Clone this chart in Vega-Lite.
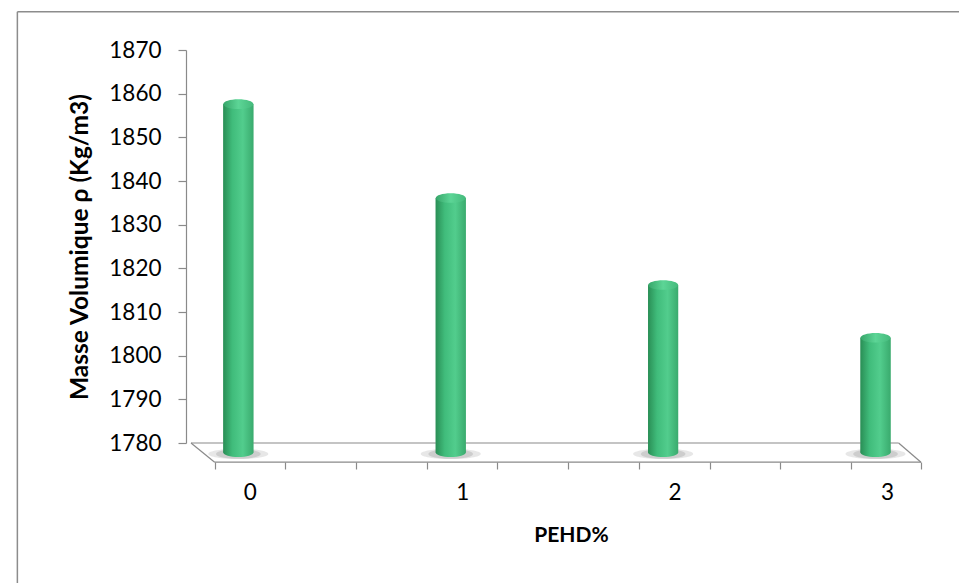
{
  "$schema": "https://vega.github.io/schema/vega-lite/v6.json",
  "autosize": {"type": "none"},
  "width": 740,
  "height": 393,
  "padding": {"left": 186, "top": 50, "right": 33, "bottom": 140},
  "background": "white",
  "config": {
    "view": {"stroke": null},
    "font": "Lato",
    "axis": {
      "grid": false,
      "domainColor": "#8a8a8a",
      "tickColor": "#8a8a8a",
      "labelFont": "Lato",
      "labelColor": "#000000",
      "titleFont": "Lato",
      "titleColor": "#000000"
    }
  },
  "data": {
    "values": [
      {"pehd": 0, "masse": 1857.6},
      {"pehd": 1, "masse": 1836.1},
      {"pehd": 2, "masse": 1816.2},
      {"pehd": 3, "masse": 1804.1}
    ]
  },
  "resolve": {"axis": {"x": "independent", "y": "independent"}},
  "layer": [
    {
      "description": "column bodies, with both axes",
      "mark": {
        "type": "bar",
        "width": 30,
        "color": {
          "gradient": "linear",
          "x1": 0, "x2": 1, "y1": 0, "y2": 0,
          "stops": [
            {"offset": 0, "color": "#2a8f56"},
            {"offset": 0.3, "color": "#40bc7b"},
            {"offset": 0.65, "color": "#52cd8d"},
            {"offset": 1, "color": "#3aab6e"}
          ]
        }
      },
      "encoding": {
        "x": {
          "field": "pehd",
          "type": "quantitative",
          "scale": {"domain": [-0.2229, 3.2141], "nice": false, "zero": false},
          "axis": {
            "orient": "bottom",
            "values": [-0.1115, 0.2214, 0.5543, 0.8872, 1.2201, 1.553, 1.886, 2.219, 2.552, 2.885, 3.2141],
            "labels": false,
            "domain": false,
            "tickSize": 7,
            "tickWidth": 1.2,
            "offset": 19,
            "title": "PEHD%",
            "titleFontSize": 21,
            "titleFontWeight": "bold",
            "titlePadding": 55,
            "titleX": 385
          }
        },
        "y": {
          "field": "masse",
          "type": "quantitative",
          "scale": {"domain": [1780, 1870], "nice": false, "zero": false},
          "axis": {
            "orient": "left",
            "values": [1780, 1790, 1800, 1810, 1820, 1830, 1840, 1850, 1860, 1870],
            "format": "d",
            "tickSize": 8,
            "tickWidth": 1.2,
            "domainWidth": 1.2,
            "labelFontSize": 22.5,
            "labelPadding": 17,
            "title": "Masse Volumique ρ (Kg/m3)",
            "titleFontSize": 24.5,
            "titleFontWeight": "bold",
            "titlePadding": 16
          }
        },
        "y2": {"datum": 1777.8}
      }
    },
    {
      "description": "chart frame (top and left edges)",
      "data": {"values": [{}]},
      "mark": {"type": "rule", "color": "#8c8c8c", "strokeWidth": 1.5},
      "encoding": {
        "x": {"datum": -1.0404, "type": "quantitative", "axis": null},
        "x2": {"datum": 6},
        "y": {"datum": 1878.77, "type": "quantitative", "axis": null}
      }
    },
    {
      "data": {"values": [{}]},
      "mark": {"type": "rule", "color": "#8c8c8c", "strokeWidth": 1.5},
      "encoding": {
        "x": {"datum": -1.0404, "type": "quantitative", "axis": null},
        "y": {"datum": 1878.77, "type": "quantitative", "axis": null},
        "y2": {"datum": 1700}
      }
    },
    {
      "description": "floor: back edge",
      "data": {"values": [{}]},
      "mark": {"type": "rule", "color": "#8a8a8a", "strokeWidth": 1.2},
      "encoding": {
        "x": {"datum": -0.2229, "type": "quantitative", "axis": null},
        "x2": {"datum": 3.1087},
        "y": {"datum": 1780, "type": "quantitative", "axis": null}
      }
    },
    {
      "description": "floor: left side",
      "data": {"values": [{}]},
      "mark": {"type": "rule", "color": "#8a8a8a", "strokeWidth": 1.2},
      "encoding": {
        "x": {"datum": -0.2229, "type": "quantitative", "axis": null},
        "x2": {"datum": -0.1115},
        "y": {"datum": 1780, "type": "quantitative", "axis": null},
        "y2": {"datum": 1775.6}
      }
    },
    {
      "description": "floor: front edge",
      "data": {"values": [{}]},
      "mark": {"type": "rule", "color": "#8a8a8a", "strokeWidth": 1.2},
      "encoding": {
        "x": {"datum": -0.1115, "type": "quantitative", "axis": null},
        "x2": {"datum": 3.2141},
        "y": {"datum": 1775.6, "type": "quantitative", "axis": null}
      }
    },
    {
      "description": "floor: right side",
      "data": {"values": [{}]},
      "mark": {"type": "rule", "color": "#8a8a8a", "strokeWidth": 1.2},
      "encoding": {
        "x": {"datum": 3.1087, "type": "quantitative", "axis": null},
        "x2": {"datum": 3.2141},
        "y": {"datum": 1780, "type": "quantitative", "axis": null},
        "y2": {"datum": 1775.6}
      }
    },
    {
      "description": "soft shadows under the columns",
      "mark": {
        "type": "point",
        "filled": true,
        "shape": "M-1,0 A1,0.17 0 1,0 1,0 A1,0.17 0 1,0 -1,0 Z",
        "size": 3600,
        "color": "#7a7a7a",
        "opacity": 0.18,
        "dx": 4
      },
      "encoding": {
        "x": {"field": "pehd", "type": "quantitative", "axis": null},
        "y": {"datum": 1777.5, "type": "quantitative", "axis": null}
      }
    },
    {
      "mark": {
        "type": "point",
        "filled": true,
        "shape": "M-1,0 A1,0.22 0 1,0 1,0 A1,0.22 0 1,0 -1,0 Z",
        "size": 2000,
        "color": "#6a6a6a",
        "opacity": 0.2,
        "dx": 4
      },
      "encoding": {
        "x": {"field": "pehd", "type": "quantitative", "axis": null},
        "y": {"datum": 1777.5, "type": "quantitative", "axis": null}
      }
    },
    {
      "description": "column bodies drawn again above the shadows",
      "mark": {
        "type": "bar",
        "width": 30,
        "color": {
          "gradient": "linear",
          "x1": 0, "x2": 1, "y1": 0, "y2": 0,
          "stops": [
            {"offset": 0, "color": "#2a8f56"},
            {"offset": 0.3, "color": "#40bc7b"},
            {"offset": 0.65, "color": "#52cd8d"},
            {"offset": 1, "color": "#3aab6e"}
          ]
        }
      },
      "encoding": {
        "x": {"field": "pehd", "type": "quantitative", "axis": null},
        "y": {"field": "masse", "type": "quantitative", "axis": null},
        "y2": {"datum": 1777.8}
      }
    },
    {
      "description": "rounded base of each column",
      "mark": {
        "type": "point",
        "filled": true,
        "opacity": 1,
        "shape": "M-1,0 A1,0.3 0 1,0 1,0 A1,0.3 0 1,0 -1,0 Z",
        "size": 900,
        "color": {
          "gradient": "linear",
          "x1": 0, "x2": 1, "y1": 0, "y2": 0,
          "stops": [
            {"offset": 0, "color": "#2a8f56"},
            {"offset": 0.3, "color": "#40bc7b"},
            {"offset": 0.65, "color": "#52cd8d"},
            {"offset": 1, "color": "#3aab6e"}
          ]
        }
      },
      "encoding": {
        "x": {"field": "pehd", "type": "quantitative", "axis": null},
        "y": {"datum": 1777.8, "type": "quantitative", "axis": null}
      }
    },
    {
      "description": "top cap of each column",
      "mark": {
        "type": "point",
        "filled": true,
        "opacity": 1,
        "shape": "M-1,0 A1,0.32 0 1,0 1,0 A1,0.32 0 1,0 -1,0 Z",
        "size": 900,
        "color": {
          "gradient": "linear",
          "x1": 0, "x2": 1, "y1": 0, "y2": 0,
          "stops": [
            {"offset": 0, "color": "#37a66a"},
            {"offset": 0.5, "color": "#5cd596"},
            {"offset": 1, "color": "#45ba7c"}
          ]
        }
      },
      "encoding": {
        "x": {"field": "pehd", "type": "quantitative", "axis": null},
        "y": {"field": "masse", "type": "quantitative", "axis": null}
      }
    },
    {
      "description": "category labels along the front edge",
      "mark": {"type": "text", "font": "Lato", "fontSize": 22.5, "color": "#000000", "baseline": "middle", "dx": 12},
      "encoding": {
        "x": {"field": "pehd", "type": "quantitative", "axis": null},
        "y": {"datum": 1768.6, "type": "quantitative", "axis": null},
        "text": {"field": "pehd", "type": "nominal"}
      }
    }
  ]
}
